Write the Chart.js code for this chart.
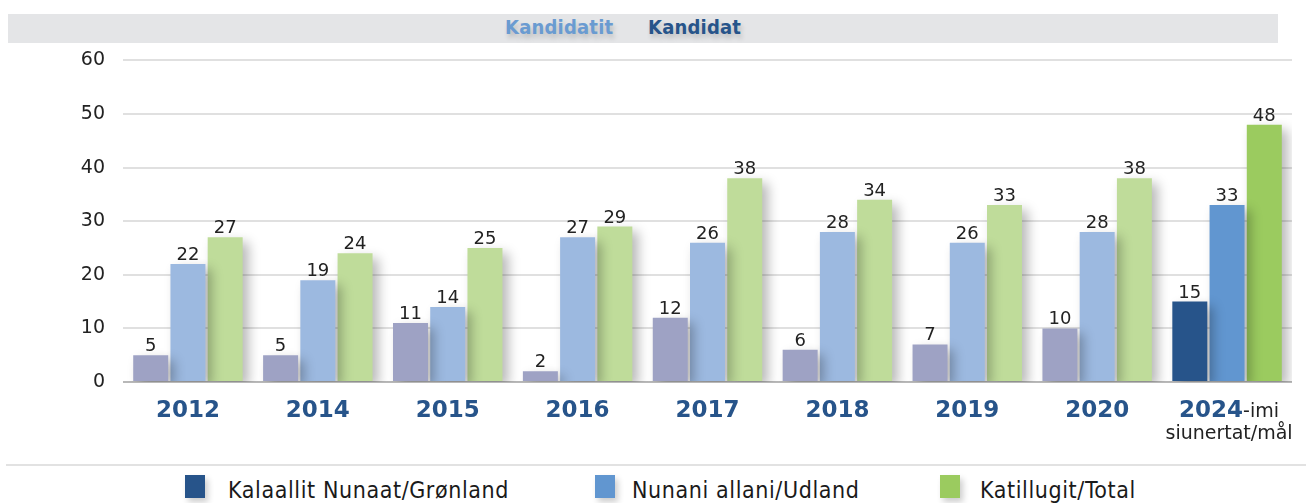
<!DOCTYPE html>
<html>
<head>
<meta charset="utf-8">
<script src="https://cdn.jsdelivr.net/npm/chart.js@4"></script>
<style>
  body { margin: 0; background: #fff; width: 1306px; height: 503px; overflow: hidden; position: relative; font-family: "DejaVu Sans", sans-serif; }
  .header { position: absolute; left: 8px; top: 14px; width: 1270px; height: 29px; background: #e4e5e7; }
  .title { position: absolute; top: 15px; font-family: "DejaVu Sans Condensed", "DejaVu Sans", sans-serif; font-weight: bold; font-size: 20px; letter-spacing: 0.2px; text-shadow: 2px 4px 5px rgba(0,0,0,0.18); }
  .wrap { position: absolute; left: 0; top: 31px; width: 1306px; height: 429px; }
  .sep { position: absolute; left: 6px; top: 464px; width: 1300px; height: 2px; background: #e2e2e2; }
  .leg { position: absolute; top: 475px; height: 24px; font-family: "DejaVu Sans Condensed", sans-serif; font-size: 23px; letter-spacing: 0.6px; color: #1a1a1a; line-height: 30px; white-space: nowrap; }
  .leg i { position: absolute; left: 0; top: 0; width: 20px; height: 23px; box-shadow: 3px 4px 6px rgba(0,0,0,0.2); }
</style>
</head>
<body>
<div class="header"></div>
<div class="title" style="left:505px;color:#6a9bd1">Kandidatit</div>
<div class="title" style="left:648px;color:#27548a">Kandidat</div>
<div class="wrap"><canvas id="c"></canvas></div>
<div class="sep"></div>
<div class="leg" style="left:185px"><i style="background:#27548a"></i><span style="margin-left:43px">Kalaallit Nunaat/Grønland</span></div>
<div class="leg" style="left:595px"><i style="background:#6196d0"></i><span style="margin-left:37px">Nunani allani/Udland</span></div>
<div class="leg" style="left:940px"><i style="background:#9bcb5f"></i><span style="margin-left:40px">Katillugit/Total</span></div>
<script>
const years = ["2012", "2014", "2015", "2016", "2017", "2018", "2019", "2020", "2024"];
const kalaallit = [5, 5, 11, 2, 12, 6, 7, 10, 15];
const nunani = [22, 19, 14, 27, 26, 28, 26, 28, 33];
const katillugit = [27, 24, 25, 29, 38, 34, 33, 38, 48];
const yTicks = [0, 10, 20, 30, 40, 50, 60];

// last group (target) uses strong colours
const colorsFor = (past, goal) => years.map((y, i) => i === years.length - 1 ? goal : past);

const shadowPlugin = {
  id: "shadow",
  beforeDatasetsDraw(chart) {
    const ctx = chart.ctx;
    ctx.save();
    ctx.shadowColor = "rgba(0,0,0,0.28)";
    ctx.shadowBlur = 12;
    ctx.shadowOffsetX = 6;
    ctx.shadowOffsetY = 5;
  },
  afterDatasetsDraw(chart) {
    chart.ctx.restore();
  }
};

const labelsPlugin = {
  id: "valueLabels",
  afterDraw(chart) {
    const ctx = chart.ctx;
    ctx.save();
    ctx.font = "18px 'DejaVu Sans'";
    ctx.fillStyle = "#222";
    ctx.textAlign = "center";
    ctx.textBaseline = "alphabetic";
    chart.data.datasets.forEach((ds, di) => {
      chart.getDatasetMeta(di).data.forEach((bar, i) => {
        ctx.fillText(ds.data[i], bar.x, bar.y - 4);
      });
    });
    // x labels
    const xs = chart.scales.x;
    const base = chart.chartArea.bottom + 35;
    years.forEach((y, i) => {
      const x = xs.getPixelForTick(i);
      if (i === years.length - 1) {
        ctx.font = "bold 23px 'DejaVu Sans'";
        const w1 = ctx.measureText(y).width;
        ctx.font = "19px 'DejaVu Sans'";
        const w2 = ctx.measureText("-imi").width;
        let start = x - (w1 + w2) / 2 + 2;
        ctx.textAlign = "left";
        ctx.font = "bold 23px 'DejaVu Sans'";
        ctx.fillStyle = "#27548a";
        ctx.fillText(y, start, base);
        ctx.font = "19px 'DejaVu Sans'";
        ctx.fillStyle = "#222";
        ctx.fillText("-imi", start + w1, base);
        ctx.textAlign = "center";
        ctx.fillText("siunertat/mål", x + 2, base + 22);
      } else {
        ctx.font = "bold 23px 'DejaVu Sans'";
        ctx.fillStyle = "#27548a";
        ctx.textAlign = "center";
        ctx.fillText(y, x, base);
      }
    });
    ctx.restore();
  }
};

new Chart(document.getElementById("c"), {
  type: "bar",
  data: {
    labels: years,
    datasets: [
      { label: "Kalaallit Nunaat/Grønland", data: kalaallit, backgroundColor: colorsFor("#9ea2c4", "#27548a") },
      { label: "Nunani allani/Udland", data: nunani, backgroundColor: colorsFor("#9cb9e0", "#6196d0") },
      { label: "Katillugit/Total", data: katillugit, backgroundColor: colorsFor("#bfdc9a", "#9bcb5f") }
    ]
  },
  options: {
    responsive: true,
    maintainAspectRatio: false,
    animation: false,
    layout: { padding: { left: 0, right: 14, top: 1, bottom: 0 } },
    datasets: { bar: { categoryPercentage: 0.86, barPercentage: 0.94 } },
    plugins: { legend: { display: false }, tooltip: { enabled: false } },
    scales: {
      x: {
        grid: { display: false, drawTicks: false },
        border: { display: false },
        ticks: { display: false },
        afterFit: s => { s.height = 78; }
      },
      y: {
        min: 0, max: 60,
        afterBuildTicks: s => { s.ticks = yTicks.map(v => ({ value: v })); },
        grid: {
          color: ctx => ctx.tick && ctx.tick.value === 0 ? "#b8b8b8" : "#e0e0e0",
          lineWidth: 2,
          drawTicks: false
        },
        border: { display: false },
        ticks: { padding: 18, color: "#222", font: { family: "DejaVu Sans", size: 19 } },
        afterFit: s => { s.width = 123; }
      }
    }
  },
  plugins: [shadowPlugin, labelsPlugin]
});
</script>
</body>
</html>
